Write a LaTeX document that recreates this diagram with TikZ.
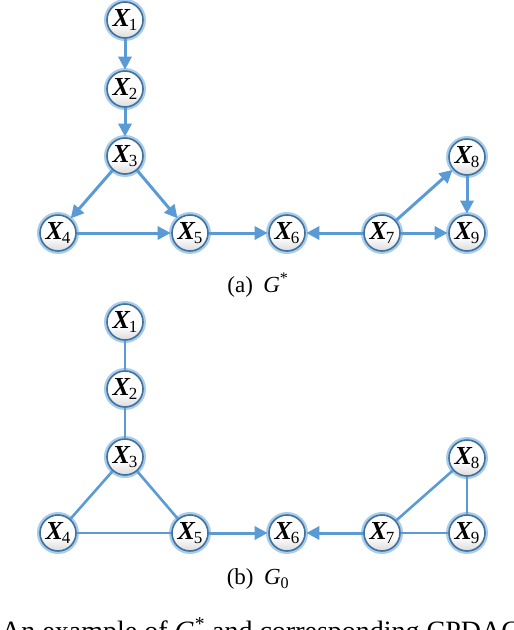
\documentclass[tikz,border=0pt]{standalone}
\usepackage{fontspec}
\setmainfont{Liberation Serif}
\usetikzlibrary{arrows.meta}
\definecolor{edgeblue}{HTML}{5B9BD5}
\definecolor{rimblue}{HTML}{41719C}
\definecolor{glowblue}{HTML}{A9CCEB}
\pgfdeclareverticalshading{nodeshade}{100bp}{color(0bp)=(black!30); color(25bp)=(black!14); color(45bp)=(white); color(100bp)=(white)}
\newcommand{\xv}[1]{{\fontsize{26}{26}\selectfont\bfseries\itshape X}\kern-1pt\raisebox{-4.5pt}{\fontsize{17}{17}\selectfont #1}}
\begin{document}
\begin{tikzpicture}[x=1pt,y=-1pt,
  vnode/.style={circle, minimum size=36pt, inner sep=0pt, draw=rimblue, line width=1.6pt,
    shading=nodeshade, preaction={draw=glowblue, line width=6pt}},
  edge/.style={draw=edgeblue, line width=3pt},
  uedge/.style={draw=edgeblue, line width=2.6pt},
  arr/.style={-{Triangle[length=13pt,width=13pt]}, shorten >=0.5pt},
  captext/.style={inner sep=0pt, font=\fontsize{23}{23}\selectfont}]
\useasboundingbox (0,0) rectangle (514,630);
% top graph
\node[vnode] (a1) at (125,20) {\xv{1}};
\node[vnode] (a2) at (125,89) {\xv{2}};
\node[vnode] (a3) at (125,156) {\xv{3}};
\node[vnode] (a4) at (58,233) {\xv{4}};
\node[vnode] (a5) at (190,233) {\xv{5}};
\node[vnode] (a6) at (287,233) {\xv{6}};
\node[vnode] (a7) at (382,233) {\xv{7}};
\node[vnode] (a8) at (467,157) {\xv{8}};
\node[vnode] (a9) at (467,233) {\xv{9}};
\draw[edge,arr] (a1) -- (a2);
\draw[edge,arr] (a2) -- (a3);
\draw[edge,arr] (a3) -- (a4);
\draw[edge,arr] (a3) -- (a5);
\draw[edge,arr] (a4) -- (a5);
\draw[edge,arr] (a5) -- (a6);
\draw[edge,arr] (a7) -- (a6);
\draw[edge,arr] (a7) -- (a8);
\draw[edge,arr] (a7) -- (a9);
\draw[edge,arr] (a8) -- (a9);
\node[captext] (capa) at (258,285) {(a)\hspace{0.45em}\textit{G}\textsuperscript{*}};
% bottom graph
\node[vnode] (b1) at (125,322) {\xv{1}};
\node[vnode] (b2) at (125,389) {\xv{2}};
\node[vnode] (b3) at (125,457) {\xv{3}};
\node[vnode] (b4) at (58,533) {\xv{4}};
\node[vnode] (b5) at (190,533) {\xv{5}};
\node[vnode] (b6) at (287,533) {\xv{6}};
\node[vnode] (b7) at (382,533) {\xv{7}};
\node[vnode] (b8) at (467,458) {\xv{8}};
\node[vnode] (b9) at (467,533) {\xv{9}};
\draw[uedge] (b1) -- (b2);
\draw[uedge] (b2) -- (b3);
\draw[uedge] (b3) -- (b4);
\draw[uedge] (b3) -- (b5);
\draw[uedge] (b4) -- (b5);
\draw[edge,arr] (b5) -- (b6);
\draw[edge,arr] (b7) -- (b6);
\draw[uedge] (b7) -- (b8);
\draw[uedge] (b7) -- (b9);
\draw[uedge] (b8) -- (b9);
\node[captext] (capb) at (258,579) {(b)\hspace{0.45em}\textit{G}\textsubscript{0}};
\node[inner sep=0pt, anchor=base west, font=\fontsize{28}{28}\selectfont] (figcap) at (1,640) {An example of \textit{G}\textsuperscript{*} and corresponding CPDAG \textit{G}\textsubscript{0}.};
\end{tikzpicture}
\end{document}
